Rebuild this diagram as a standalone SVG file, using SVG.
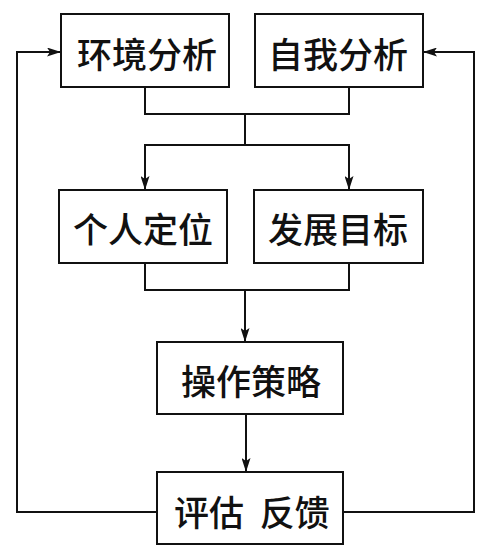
<svg xmlns="http://www.w3.org/2000/svg" width="482" height="556" viewBox="0 0 482 556">
<style>
.box{fill:#fff;stroke:#111;stroke-width:2}
.lbl{font-family:"Noto Sans CJK SC","Noto Sans CJK JP",sans-serif;font-size:35px;font-weight:500;fill:#111;text-anchor:middle;dominant-baseline:central}
.ln{fill:none;stroke:#111;stroke-width:2}
</style>
<defs>
<marker id="ah" viewBox="0 0 14 9" refX="14" refY="4.5" markerWidth="14" markerHeight="9" markerUnits="userSpaceOnUse" orient="auto">
<path d="M0,0 L14,4.5 L0,9 L3,4.5 Z" fill="#111"/>
</marker>
</defs>
<rect width="482" height="556" fill="#fff"/>
<g id="connectors">
<path class="ln" d="M145,87 V114 H349 V87"/>
<path class="ln" d="M245,114 V145"/>
<path class="ln" d="M145,190 V145 H349 V190" marker-end="url(#ah)"/>
<path class="ln" d="M245,145 H145 V190" marker-end="url(#ah)"/>
<path class="ln" d="M145,263 V290 H349 V263"/>
<path class="ln" d="M245,290 V342" marker-end="url(#ah)"/>
<path class="ln" d="M246,414 V472" marker-end="url(#ah)"/>
<path class="ln" d="M157,512 H17 V52 H61" marker-end="url(#ah)"/>
<path class="ln" d="M343,512 H474 V52 H423" marker-end="url(#ah)"/>
</g>
<g id="n1"><rect class="box" x="61" y="14" width="168" height="73"/><text class="lbl" x="147" y="52">环境分析</text></g>
<g id="n2"><rect class="box" x="255" y="14" width="168" height="73"/><text class="lbl" x="338" y="52">自我分析</text></g>
<g id="n3"><rect class="box" x="59" y="190" width="168" height="73"/><text class="lbl" x="143" y="227">个人定位</text></g>
<g id="n4"><rect class="box" x="254" y="190" width="169" height="73"/><text class="lbl" x="338" y="227">发展目标</text></g>
<g id="n5"><rect class="box" x="157" y="342" width="186" height="72"/><text class="lbl" x="251" y="379">操作策略</text></g>
<g id="n6"><rect class="box" x="157" y="472" width="186" height="72"/><text class="lbl" x="252" y="510" xml:space="preserve">评估  反馈</text></g>
</svg>
